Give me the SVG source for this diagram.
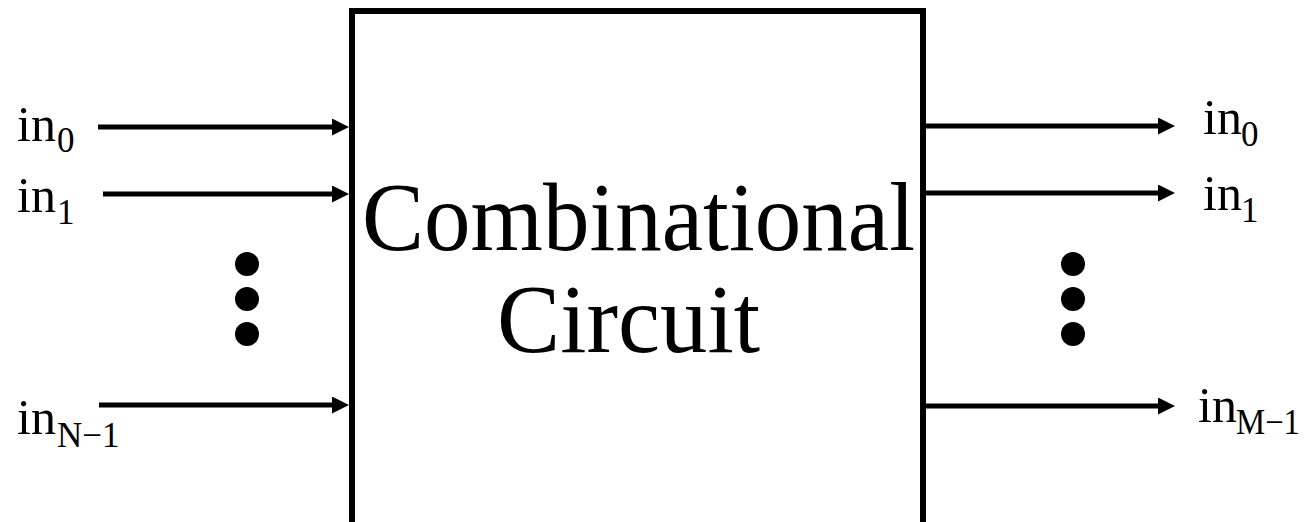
<svg xmlns="http://www.w3.org/2000/svg" width="1304" height="522" viewBox="0 0 1304 522">
<style>
.lbl{font-family:"Liberation Serif","Times New Roman",serif;font-size:50px;fill:#000}
.sub{font-family:"Liberation Serif","Times New Roman",serif;font-size:35px;fill:#000}
.title{font-family:"Liberation Serif","Times New Roman",serif;font-size:98px;fill:#000}
.wire{stroke:#000;stroke-width:5;fill:none}
.dot{fill:#000}
</style>
<defs>
<marker id="ah" markerUnits="userSpaceOnUse" markerWidth="18" markerHeight="18" refX="1" refY="8.5" orient="auto">
<path d="M0,0 L17,8.5 L0,17 z" fill="#000"/>
</marker>
</defs>
<rect width="1304" height="522" fill="#fff"/>
<g id="circuit">
<rect x="352" y="11" width="571" height="525" fill="#fff" stroke="#000" stroke-width="6"/>
<text class="title" x="362" y="250" textLength="553" lengthAdjust="spacingAndGlyphs">Combinational</text>
<text class="title" x="497" y="352" textLength="263" lengthAdjust="spacingAndGlyphs">Circuit</text>
</g>
<g id="connectors">
<line class="wire" x1="98" y1="127" x2="333" y2="127" marker-end="url(#ah)"/>
<line class="wire" x1="103" y1="194" x2="333" y2="194" marker-end="url(#ah)"/>
<line class="wire" x1="99" y1="405" x2="333" y2="405" marker-end="url(#ah)"/>
<line class="wire" x1="925" y1="126" x2="1159" y2="126" marker-end="url(#ah)"/>
<line class="wire" x1="925" y1="193" x2="1159" y2="193" marker-end="url(#ah)"/>
<line class="wire" x1="925" y1="406" x2="1159" y2="406" marker-end="url(#ah)"/>
</g>
<g id="in-left-0"><text class="lbl" x="17" y="141">in</text><text class="sub" x="57" y="152">0</text></g>
<g id="in-left-1"><text class="lbl" x="17" y="212">in</text><text class="sub" x="57" y="224">1</text></g>
<g id="in-left-n"><text class="lbl" x="17" y="434">in</text><text class="sub" x="57" y="447">N−1</text></g>
<g id="out-right-0"><text class="lbl" x="1203" y="134">in</text><text class="sub" x="1241" y="146">0</text></g>
<g id="out-right-1"><text class="lbl" x="1203" y="210">in</text><text class="sub" x="1241" y="222">1</text></g>
<g id="out-right-m"><text class="lbl" x="1198" y="422">in</text><text class="sub" x="1236" y="434" textLength="64" lengthAdjust="spacingAndGlyphs">M−1</text></g>
<g id="dots-left">
<circle class="dot" cx="247" cy="264" r="12"/>
<circle class="dot" cx="247" cy="299" r="12"/>
<circle class="dot" cx="247" cy="334" r="12"/>
</g>
<g id="dots-right">
<circle class="dot" cx="1073" cy="264" r="12"/>
<circle class="dot" cx="1073" cy="299" r="12"/>
<circle class="dot" cx="1073" cy="334" r="12"/>
</g>
</svg>
